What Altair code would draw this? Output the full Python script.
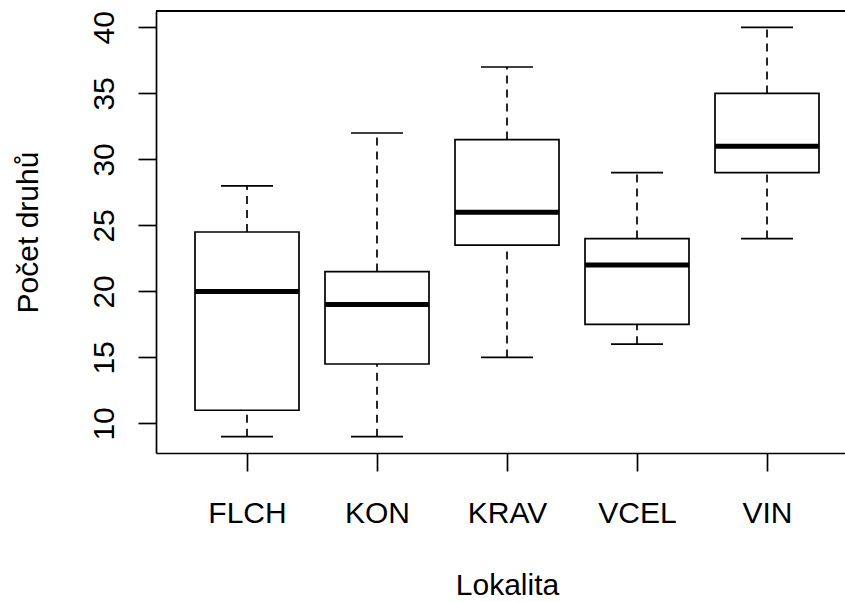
import json
import altair as alt
import pandas as pd

categories = ["FLCH", "KON", "KRAV", "VCEL", "VIN"]
mins = [9, 9, 15, 16, 24]
q1s = [11, 14.5, 23.5, 17.5, 29]
medians = [20, 19, 26, 22, 31]
q3s = [24.5, 21.5, 31.5, 24, 35]
maxs = [28, 32, 37, 29, 40]
y_ticks = [10, 15, 20, 25, 30, 35, 40]

df = pd.DataFrame({
    "cat": categories,
    "idx": list(range(1, len(categories) + 1)),
    "lo": mins, "q1": q1s, "med": medians, "q3": q3s, "hi": maxs,
})

W, H = 689, 442
FONT = "Liberation Sans"
FS = 30
LW = 1.7

xscale = alt.Scale(domain=[0.3, 5.6], nice=False, zero=False)
yscale = alt.Scale(domain=[7.76, 41.24], nice=False, zero=False)

label_expr = json.dumps(categories) + "[datum.value - 1]"

xaxis = alt.Axis(values=list(range(1, len(categories) + 1)), labelExpr=label_expr,
                 title="Lokalita", grid=False, tickSize=18, tickWidth=LW, tickColor="black",
                 domainColor="black", domainWidth=LW, labelFont=FONT, labelFontSize=FS,
                 labelColor="black", labelBaseline="alphabetic", labelPadding=51,
                 labelAlign="center", labelFlush=False, labelOverlap=False,
                 titleFont=FONT, titleFontSize=FS, titleFontWeight="normal", titleColor="black",
                 titleBaseline="alphabetic", titleAnchor="middle", titleX=351, titleY=141,
                 titleAlign="center")
yaxis = alt.Axis(values=y_ticks, title="Počet druhů", grid=False, tickSize=18, tickWidth=LW,
                 tickColor="black", domainColor="black", domainWidth=LW, labelFont=FONT,
                 labelFontSize=FS, labelColor="black", labelAngle=270, labelAlign="center",
                 labelBaseline="alphabetic", labelPadding=25, labelFlush=False, labelOverlap=False,
                 titleFont=FONT, titleFontSize=FS, titleFontWeight="normal", titleColor="black",
                 titleAngle=270, titleAlign="center", titleBaseline="alphabetic",
                 titleX=-119, titleY=H / 2)

base = alt.Chart(df).transform_calculate(
    xl="datum.idx - 0.4", xr="datum.idx + 0.4",
    cl="datum.idx - 0.2", cr="datum.idx + 0.2",
)

whisk_lo = base.mark_rule(color="black", strokeWidth=LW, strokeDash=[8, 6]).encode(
    x=alt.X("idx:Q", scale=xscale, axis=xaxis),
    y=alt.Y("lo:Q", scale=yscale, axis=yaxis),
    y2="q1:Q",
)
whisk_hi = base.mark_rule(color="black", strokeWidth=LW, strokeDash=[8, 6]).encode(
    x="idx:Q", y="q3:Q", y2="hi:Q",
)
cap_lo = base.mark_rule(color="black", strokeWidth=LW).encode(
    x="cl:Q", x2="cr:Q", y="lo:Q",
)
cap_hi = base.mark_rule(color="black", strokeWidth=LW).encode(
    x="cl:Q", x2="cr:Q", y="hi:Q",
)
box = base.mark_rect(fill="white", stroke="black", strokeWidth=LW).encode(
    x="xl:Q", x2="xr:Q", y="q1:Q", y2="q3:Q",
)
med = base.mark_rule(color="black", strokeWidth=5).encode(
    x="xl:Q", x2="xr:Q", y="med:Q",
)
top = alt.Chart(df).mark_rule(color="black", strokeWidth=LW).encode(
    x=alt.value(0), x2=alt.value(W), y=alt.value(0),
)

chart = alt.layer(whisk_lo, whisk_hi, cap_lo, cap_hi, box, med, top).properties(
    width=W, height=H,
    autosize=alt.AutoSizeParams(type="none"),
    padding={"left": 156, "top": 11, "right": 0, "bottom": 149},
    background="white",
).configure_view(stroke=None)

chart.save("out.html", embed_options={"renderer": "svg", "actions": False})
